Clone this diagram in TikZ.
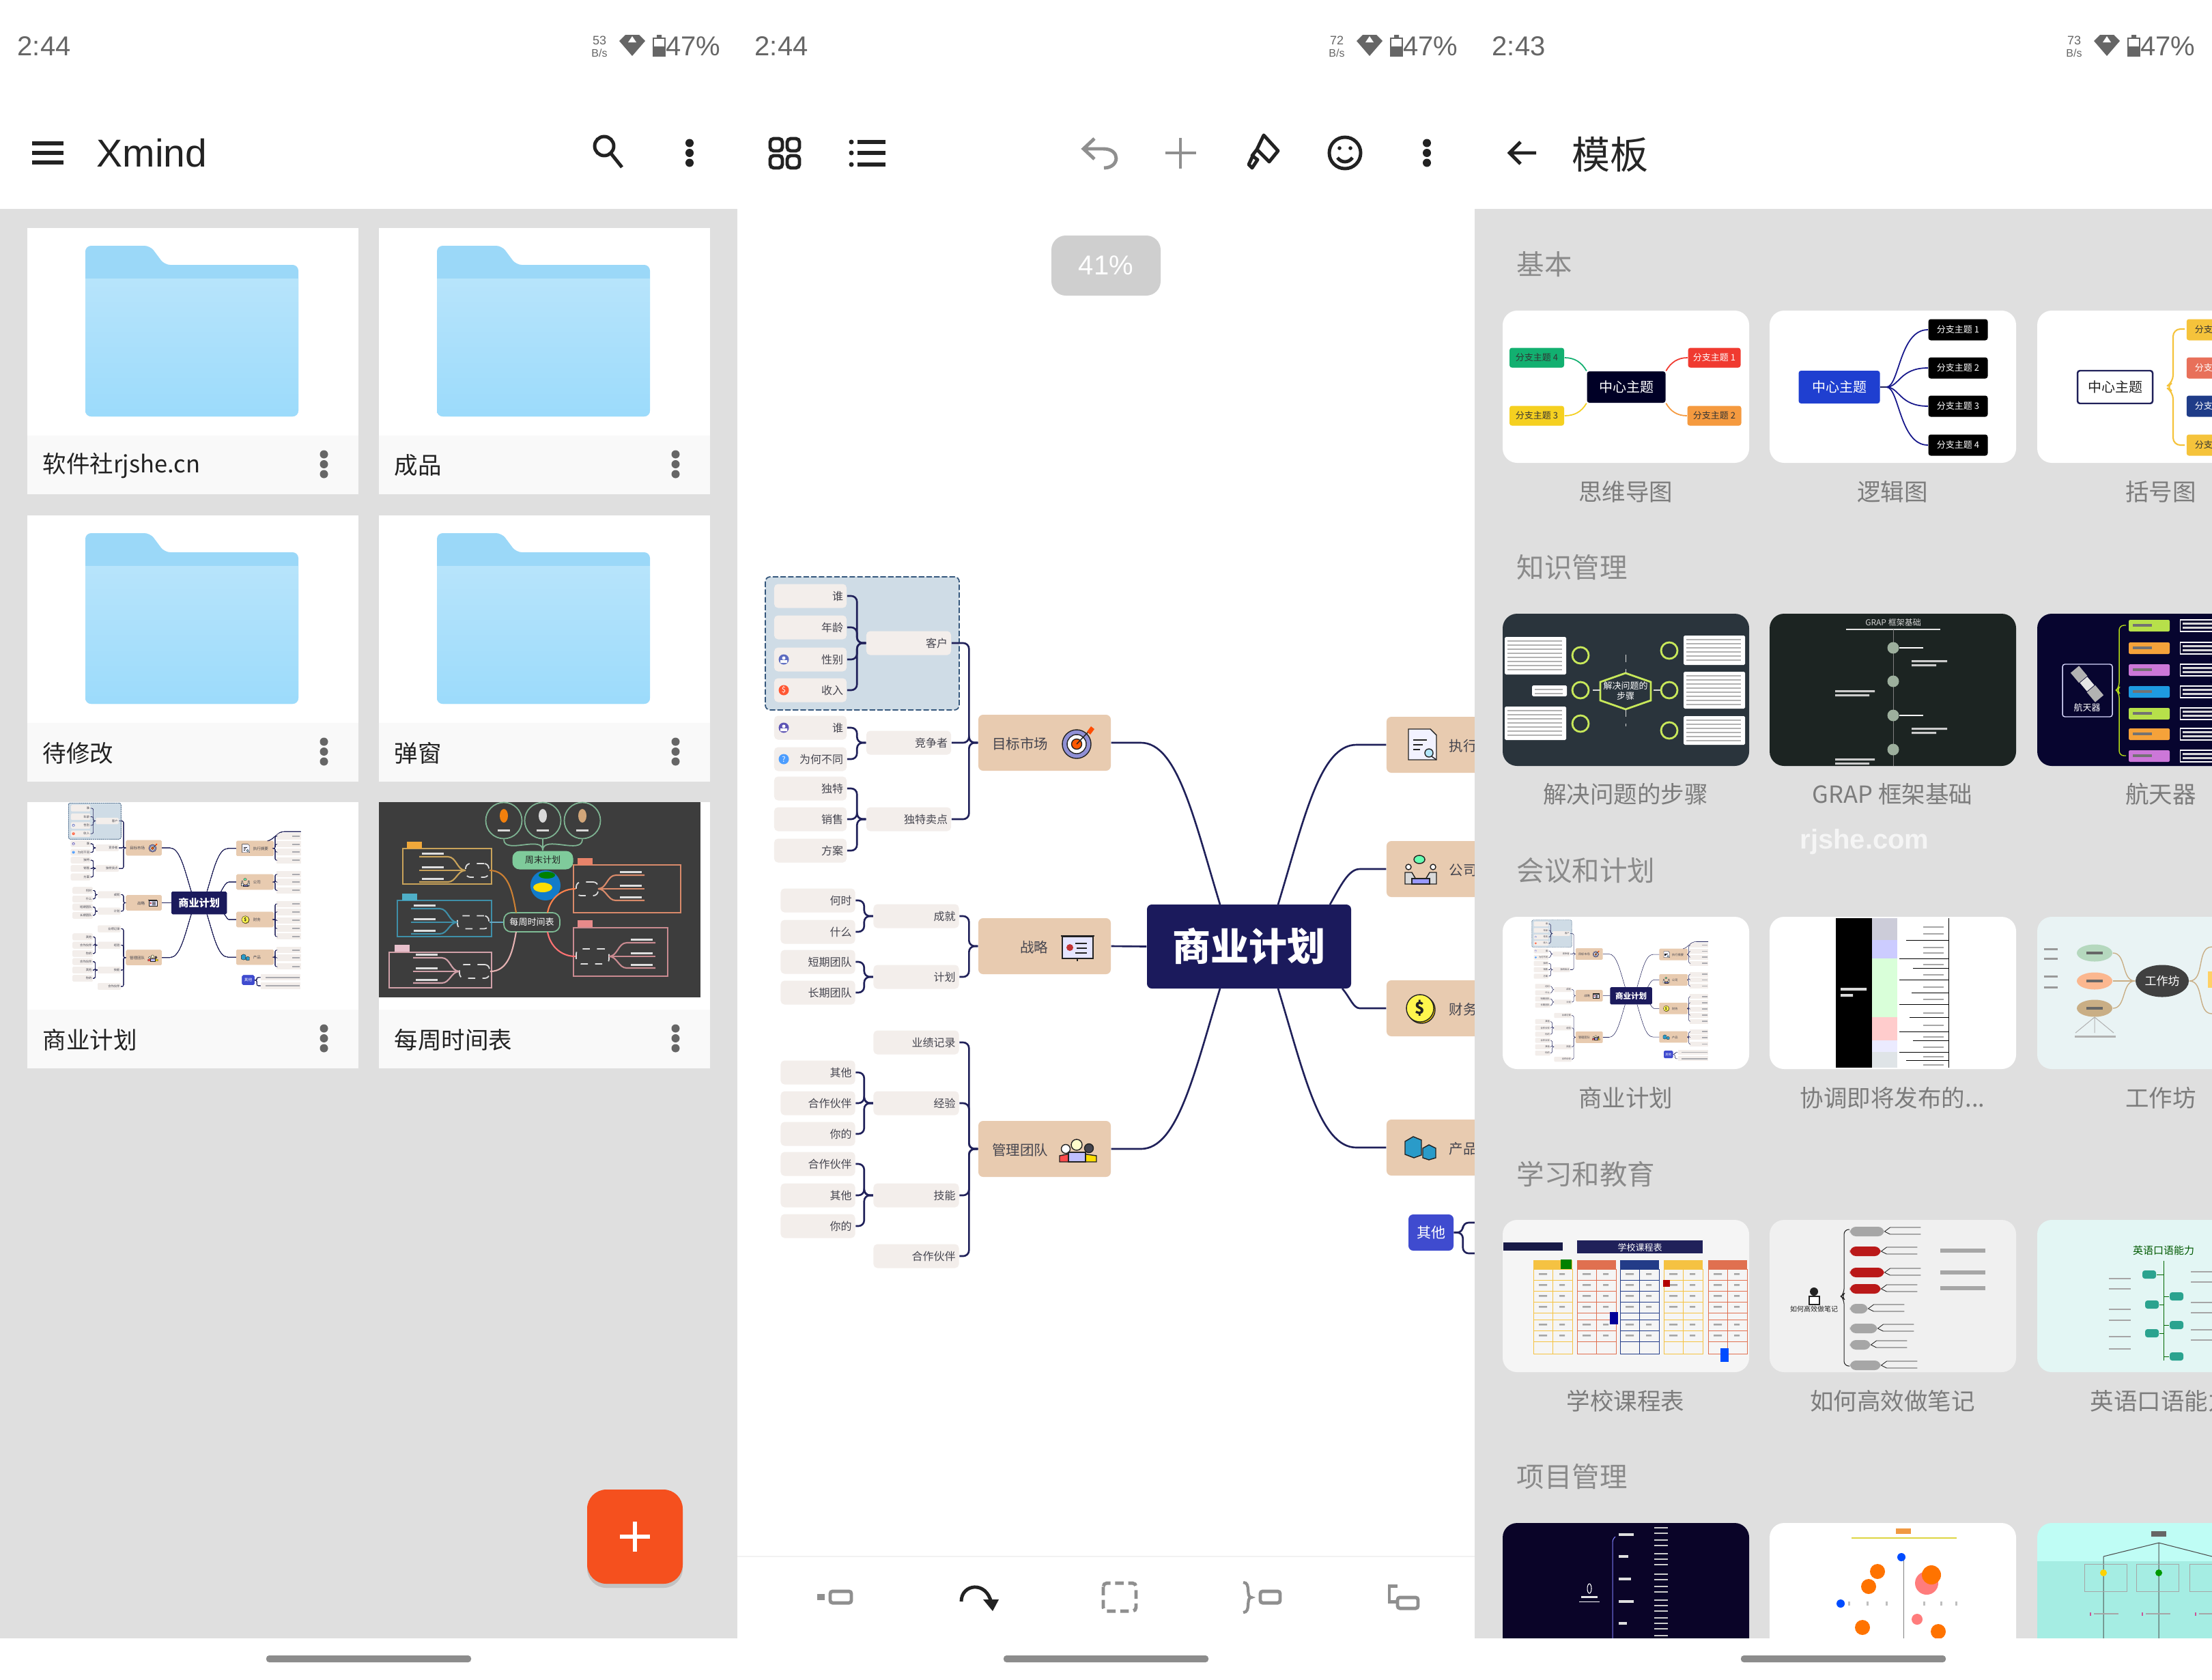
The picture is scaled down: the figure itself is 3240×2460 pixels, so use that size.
\documentclass[tikz,border=0pt]{standalone}
\usepackage{fontspec}
\setmainfont{Noto Sans CJK SC}
\newfontfamily\latinfont{Liberation Sans}
\usetikzlibrary{shapes.geometric,shadows}
\definecolor{pagegray}{HTML}{DFDFDF}
\definecolor{footc}{HTML}{F9F9F9}
\definecolor{ink}{HTML}{20215A}
\definecolor{hubc}{HTML}{1B1A5C}
\definecolor{topicc}{HTML}{E8CBB0}
\definecolor{paper}{HTML}{F3EEEB}
\definecolor{leafink}{HTML}{45454F}
\definecolor{boxblue}{HTML}{CFDCE6}
\definecolor{boxedge}{HTML}{35577C}
\definecolor{folderback}{HTML}{9BD8F8}
\definecolor{foldertop}{HTML}{B7E4FB}
\definecolor{folderbot}{HTML}{9CDBFB}
\definecolor{statc}{HTML}{666666}
\definecolor{iconc}{HTML}{222222}
\definecolor{offc}{HTML}{8F8F8F}
\definecolor{headc}{HTML}{8A8A8A}
\definecolor{labelc}{HTML}{7C7C7C}
\definecolor{fabc}{HTML}{F5501E}
\definecolor{otherc}{HTML}{3F4BCF}
\definecolor{bgreen}{HTML}{12B070}
\definecolor{bred}{HTML}{F03A30}
\definecolor{byellow}{HTML}{F5D020}
\definecolor{borange}{HTML}{F59A3F}
\definecolor{lblue}{HTML}{1F3FD0}
\definecolor{gold}{HTML}{F5C33B}
\definecolor{salmon}{HTML}{E8705A}
\definecolor{navy}{HTML}{1F3C88}
\definecolor{lime}{HTML}{C8E85A}
\definecolor{sgreen}{HTML}{B7E04A}
\definecolor{sorange}{HTML}{F5A23A}
\definecolor{spink}{HTML}{CC77D8}
\definecolor{sblue}{HTML}{1E9AE0}
\definecolor{tealc}{HTML}{2BA38F}
\definecolor{tan}{HTML}{C9AE85}
\definecolor{pillc}{HTML}{7FCB9B}
\newcommand{\fpx}[1]{\fontsize{\fpeval{#1*.2845}}{\fpeval{#1*.34}}\selectfont}
\newcommand{\trunc}{.{}.{}.}
\tikzset{
  box/.style 2 args={minimum width=#1*.01cm,minimum height=#2*.01cm,inner sep=0pt},
  leaf/.style={fill=paper,inner xsep=.05cm,inner ysep=0pt,minimum height=.35cm,align=right,font=\fpx{16},text=leafink},
  topic/.style={box={194}{82},fill=topicc},
  toptext/.style={font=\fpx{20.5},text=leafink,inner sep=0pt},
  stat/.style={font=\latinfont\fpx{40},text=statc,inner sep=0pt},
  tool/.style={draw=iconc,line width=1.4pt},
  toolgray/.style={draw=offc,line width=1.4pt},
  cap3/.style={font=\fpx{34.5},text=labelc,inner sep=0pt},
  sect/.style={font=\fpx{40.5},text=headc,inner sep=0pt,anchor=west},
  tag/.style={rounded corners=1pt,font=\fpx{13},text=white}
}
\newcommand{\statusbar}[3]{
\begin{scope}[shift={(#1,0)}]
\node[stat,anchor=west] (clock#1) at (25,68) {#2};
\node[font=\latinfont\fpx{18},text=statc,inner sep=0pt] (rate#1) at (878,59) {#3};
\node[font=\latinfont\fpx{16},text=statc,inner sep=0pt] (unit#1) at (878,78) {B/s};
\fill[statc] (907,60) -- (916,51) -- (936,51) -- (945,60) -- (926,82) -- cycle;
\fill[white] (926,53) -- (932,62) -- (920,62) -- cycle;
\draw[statc,line width=.6pt] (957,56) rectangle (974,82);
\fill[statc] (957,68) rectangle (974,82) (962,51) rectangle (969,56);
\node[stat,anchor=east] (batt#1) at (1056,68) {47\%};
\end{scope}}
\newcommand{\kebab}[3]{\foreach \k in {-1,0,1} \fill[#3] (#1,{#2+\k*14.5}) circle (6);}
\newcommand{\folder}[2]{
\begin{scope}[shift={(#1,#2)}]
\fill[folderback,rounded corners=2.4pt] (0,250) -- (0,0) -- (95,0) -- (116,28) -- (312,28) -- (312,250) -- cycle;
\begin{scope}
\clip[rounded corners=2.4pt] (0,250) -- (0,-20) -- (312,-20) -- (312,250) -- cycle;
\shade[top color=foldertop,bottom color=folderbot] (0,48) rectangle (312,250);
\end{scope}
\end{scope}}
\newcommand{\filecard}[3]{
\fill[white] (#1,#2) rectangle ++(485,390);
\fill[footc] (#1,{#2+304}) rectangle ++(485,86);
\node[anchor=west,font=\fpx{34.5},text=iconc,inner sep=0pt] (file#1x#2) at ({#1+22},{#2+348}) {#3};
\kebab{#1+434.5}{#2+346}{statc}}
\newcommand{\bizmap}[3]{
\pgfmathsetlengthmacro\dashon{#3*2.3pt}
\pgfmathsetlengthmacro\dashoff{#3*.9pt}
\begin{scope}[shift={({#1-1829*#3},{#2-1388*#3})},scale=#3,transform shape,
  link/.style={draw=ink,line width=#3*.75pt,rounded corners=#3*2.4pt},
  lin/.style={draw=iconc,line width=#3*.4pt},
  leaf/.append style={rounded corners=#3*1.6pt},
  topic/.append style={rounded corners=#3*2pt}]
\draw[fill=boxblue,draw=boxedge,line width=#3*.5pt,rounded corners=#3*2pt,dash pattern=on \dashon off \dashoff] (1121,845) rectangle (1405,1040);
\foreach \y/\txt in {873/谁,919/年龄,966/性别,1011/收入,1066/谁,1112/为何不同,1155/独特,1200/销售,1246/方案}
  \node[leaf,text width=.96cm] (l\y) at (1187,\y) {\txt};
\foreach \y/\txt in {1319/何时,1365/什么,1409/短期团队,1454/长期团队,1571/其他,1616/合作伙伴,1661/你的,1705/合作伙伴,1751/其他,1796/你的}
  \node[leaf,text width=.99cm] (l\y) at (1198,\y) {\txt};
\foreach \y/\txt in {942/客户,1088/竞争者,1200/独特卖点}
  \node[leaf,text width=1.14cm] (m\y) at (1331,\y) {\txt};
\foreach \y/\txt in {1342/成就,1431/计划,1527/业绩记录,1616/经验,1751/技能,1840/合作伙伴}
  \node[leaf,text width=1.15cm] (m\y) at (1342,\y) {\txt};
\node[topic] (tmkt) at (1530,1088) {};
\node[topic] (tstr) at (1530,1386) {};
\node[topic] (ttm) at (1530,1683) {};
\node[toptext,anchor=east] (lmkt) at (1536,1090) {目标市场};
\node[toptext,anchor=east] (lstr) at (1536,1388) {战略};
\node[toptext,anchor=east] (ltm) at (1536,1685) {管理团队};
\foreach \y/\n/\txt in {1091/a/执行摘要,1273/b/公司,1477/c/财务,1681/d/产品} {
  \node[topic,minimum width=2.03cm] (e\n) at (2132.5,\y) {};
  \node[toptext,anchor=west] (la\n) at (2122,{\y+2}) {\txt};}
\node[box={299}{123},fill=hubc,rounded corners=#3*2pt,text=white,font=\fpx{56}\bfseries] (hub) at (1829.5,1386.5) {商业计划};
\coordinate (hnw) at (1787,1325);
\coordinate (hsw) at (1787,1448);
\coordinate (hne) at (1872,1325);
\coordinate (hse) at (1872,1448);
\coordinate (hbn) at (1948,1325);
\coordinate (hcs) at (1966,1448);
\node[box={66}{53},fill=otherc,rounded corners=#3*2pt,text=white,font=\fpx{21}] (oth) at (2096,1805.5) {其他};
\foreach \y in {1025,1069,1110,1155,1232,1273,1318,1392,1436,1481,1525,1569,1643,1684,1732} {
  \node[box={131}{34},fill=paper] (r\y) at (2316,\y) {};
  \fill[leafink!45] (2335,{\y-4}) rectangle (2376,{\y+4});}
\foreach \y in {1791,1836} {
  \node[box={217}{34},fill=paper] (r\y) at (2272,\y) {};
  \fill[leafink!45] (2190,{\y-4}) rectangle (2376,{\y+4});}
\foreach \up/\kids in {942/{873,919,966,1011},1088/{1066,1112},1200/{1155,1200,1246},1342/{1319,1365},1431/{1409,1454},1616/{1571,1616,1661},1751/{1705,1751,1796}}
  \foreach \kid in \kids \draw[link] (m\up.west) -- ++(-13,0) |- (l\kid.east);
\foreach \up/\kids in {tmkt/{942,1088,1200},tstr/{1342,1431},ttm/{1527,1616,1751,1840}}
  \foreach \kid in \kids \draw[link] (\up.west) -- ++(-13,0) |- (m\kid.east);
\foreach \up/\kids in {a/{1025,1069,1110,1155},b/{1232,1273,1318},c/{1392,1436,1481,1525,1569},d/{1643,1684,1732}}
  \foreach \kid in \kids \draw[link] (e\up.east) -- ++(7,0) |- (r\kid.west);
\foreach \kid in {1791,1836} \draw[link] (oth.east) -- ++(13,0) |- (r\kid.west);
\draw[link] (tmkt.east) -- ++(35,0) .. controls +(62,0) and +(-38,-125) .. (hnw);
\draw[link] (ttm.east) -- ++(35,0) .. controls +(62,0) and +(-38,125) .. (hsw);
\draw[link] (tstr.east) -- (hub.west);
\draw[link] (ea.west) -- ++(-35,0) .. controls +(-62,0) and +(38,-125) .. (hne);
\draw[link] (ed.west) -- ++(-35,0) .. controls +(-62,0) and +(38,125) .. (hse);
\draw[link] (eb.west) -- ++(-30,0) .. controls +(-25,0) and +(16,-28) .. (hbn);
\draw[link] (ec.west) -- ++(-30,0) .. controls +(-18,0) and +(12,14) .. (hcs);
\draw[link] (2200,1051) .. controls (2240,1040) and (2250,1005) .. (2290,1000) -- (2381,1000);
\foreach \y/\cc in {966/5C6BC0,1066/5E55B5} {
  \definecolor{mk}{HTML}{\cc}
  \fill[mk] (1148,\y) circle (7.5);
  \fill[white] (1148,{\y-2}) circle (2.5) (1143,{\y+1}) rectangle (1153,{\y+5});}
\node[circle,fill=red!65!orange!80,text=white,font=\fpx{11},inner sep=0pt,minimum size=.15cm] (mon) at (1148,1011) {\$};
\node[circle,fill=blue!55!cyan!70,text=white,font=\fpx{11},inner sep=0pt,minimum size=.15cm] (ask) at (1148,1112) {?};
\draw[lin,fill=blue!45!gray!60] (1577,1090) circle (21);
\draw[lin,fill=white] (1577,1090) circle (14);
\draw[lin,fill=orange!70!red] (1577,1090) circle (7.5);
\draw[lin] (1577,1090) -- (1596,1070);
\fill[orange!60!red] (1592,1072) -- (1598,1064) -- (1603,1068) -- (1597,1076) -- cycle;
\draw[lin,fill=blue!10] (1556,1372) rectangle (1601,1404);
\draw[lin,line width=#3*.8pt] (1554,1371) -- (1603,1371) (1578,1404) -- (1578,1408);
\fill[red!70!black!80] (1567,1388) circle (5);
\draw[lin] (1575,1382) -- (1592,1382) (1577,1389) -- (1592,1389) (1575,1396) -- (1592,1396);
\draw[lin,fill=red!70] (1552,1702) -- (1552,1693) -- (1572,1689) -- (1572,1702) -- cycle;
\draw[lin,fill=white] (1561,1683) circle (6.5);
\draw[lin,fill=yellow!80!orange] (1585,1702) -- (1585,1690) -- (1606,1693) -- (1606,1702) -- cycle;
\draw[lin,fill=leafink] (1595,1682) circle (6.5);
\draw[lin,fill=blue!25] (1565,1702) -- (1565,1688) -- (1590,1688) -- (1590,1702) -- cycle;
\draw[lin,fill=yellow!20] (1577,1677) circle (8);
\draw[lin,fill=blue!5] (2063,1068) -- (2095,1068) -- (2104,1077) -- (2104,1113) -- (2063,1113) -- cycle;
\draw[lin] (2070,1084) -- (2090,1084) (2070,1091) -- (2084,1091) (2070,1098) -- (2080,1098);
\draw[lin,fill=cyan!30] (2093,1103) circle (6);
\draw[lin] (2097,1108) -- (2104,1113);
\draw[lin,fill=green!50!cyan!60] (2079,1259) ellipse (8 and 6);
\draw[lin,fill=white] (2063,1270) circle (4) (2099,1270) circle (4);
\draw[lin,fill=gray!30] (2058,1295) -- (2058,1278) -- (2068,1278) -- (2074,1288) -- (2074,1295) -- cycle;
\draw[lin,fill=gray!30] (2104,1295) -- (2104,1278) -- (2094,1278) -- (2088,1288) -- (2088,1295) -- cycle;
\draw[lin,fill=blue!40] (2068,1287) rectangle (2094,1295);
\draw[lin,fill=yellow!70!orange] (2082,1479) circle (20);
\draw[lin,fill=yellow!70] (2080,1477) circle (20);
\node[font=\fpx{24}\bfseries,text=iconc,inner sep=0pt] (coin) at (2080,1477) {\$};
\draw[lin,fill=cyan!60!teal] (2058,1672) -- (2070,1665) -- (2082,1670) -- (2082,1692) -- (2071,1696) -- (2058,1691) -- cycle;
\draw[lin,fill=cyan!60!teal] (2084,1682) -- (2093,1677) -- (2103,1682) -- (2103,1696) -- (2093,1699) -- (2084,1696) -- cycle;
\end{scope}}
\begin{document}
\begin{tikzpicture}[x=.01cm,y=-.01cm]
\useasboundingbox (0,0) rectangle (3240,2460);
\clip (0,0) rectangle (3240,2460);
\fill[white] (0,0) rectangle (3240,2460);
\statusbar{0}{2:44}{53}
\node[font=\latinfont\fpx{57},text=iconc,inner sep=0pt,anchor=west] (app) at (141,224) {Xmind};
\foreach \y in {210,224,238} \draw[iconc,line width=1.7pt] (47,\y) -- (93,\y);
\draw[iconc,line width=1.4pt] (885,214) circle (14) (895,225) -- (911,245);
\kebab{1010}{224}{iconc}
\fill[pagegray] (0,306) rectangle (1080,2400);
\filecard{40}{334}{软件社rjshe.cn}
\filecard{555}{334}{成品}
\filecard{40}{755}{待修改}
\filecard{555}{755}{弹窗}
\filecard{40}{1175}{商业计划}
\filecard{555}{1175}{每周时间表}
\foreach \x in {125,640} \foreach \y in {360,781} \folder{\x}{\y}
\bizmap{291.5}{1323}{.27}
\fill[fill=black!76] (555,1175) rectangle (1026,1461);
\foreach \x/\cc in {738/orange!80!brown,795/white!70!gray,853/brown!70} {
  \node[circle,draw=pillc!70!gray,line width=.5pt,minimum size=.53cm,inner sep=0pt] (w\x) at (\x,1202) {};
  \fill[\cc] (\x,1195) ellipse (6 and 10);
  \fill[white!70!gray] ({\x-9},1215) rectangle ++(18,3);}
\node[box={89}{27},fill=pillc,rounded corners=3pt,font=\fpx{13},text=iconc] (pill) at (795,1260) {周末计划};
\foreach \x in {738,795,853} \draw[pillc!70!gray,line width=.5pt] (w\x.south) to[out=-90,in=90] (pill.north);
\fill[cyan!60!blue] (799,1297) circle (22);
\fill[yellow!80!orange] (795,1300) ellipse (14 and 7);
\fill[green!50!black] (801,1282) ellipse (12 and 5);
\node[box={82}{28},draw=pillc!80!gray,rounded corners=3pt,line width=.5pt,font=\fpx{13},text=white] (wk) at (779,1351) {每周时间表};
\foreach \xa/\ya/\xb/\yb/\xt/\yt/\xc/\yc/\wn/\hn/\sg/\cc/\tg in {
  590/1243/720/1295/596/1233/699/1275/34/20/-1/C9A35A/F0A83A,
  582/1319/720/1372/589/1309/693/1351/46/19/-1/3F8FA8/4FAFC8,
  570/1395/720/1447/578/1384/695/1423/44/20/-1/D0A0A8/E8C0CC,
  840/1267/997/1337/846/1257/860/1302/32/20/1/D98A6A/E8836A,
  840/1359/978/1430/846/1348/868/1401/48/22/1/C98A90/E88A8A} {
  \definecolor{gb}{HTML}{\cc}
  \definecolor{gt}{HTML}{\tg}
  \draw[gb,line width=.4pt] (\xa,\ya) rectangle (\xb,\yb);
  \fill[gt] (\xt,\yt) rectangle ++(22,10);
  \node[box={\wn}{\hn},draw=white!75!gray,dashed,line width=.5pt,rounded corners=2pt] (n\xc) at (\xc,\yc) {};
  \foreach \q in {-20,0,17} {
    \draw[gb,line width=.6pt] (n\xc.center) ++({\sg*(\wn/2)},0) to[out={90-\sg*90},in={90+\sg*90}] ++({\sg*26},\q) -- ++({\sg*42},0);
    \fill[white!75!gray] ({\xc+\sg*(\wn/2+32)},{\yc+\q-6}) rectangle ++({\sg*32},3);}
  }
\draw[orange!60!gray,line width=.6pt] (n699.east) to[out=0,in=100] (756,1337);
\draw[cyan!50!gray,line width=.6pt] (n693.east) -- (wk.west);
\draw[pink!80!gray,line width=.6pt] (n695.east) to[out=0,in=-100] (756,1365);
\draw[orange!60!red!70,line width=.6pt] (n860.west) to[out=180,in=80] (802,1337);
\draw[red!40!pink,line width=.6pt] (n868.west) to[out=180,in=-80] (802,1365);
\node[box={140}{138},fill=fabc,rounded corners=8pt,drop shadow={opacity=.3,shadow xshift=0pt,shadow yshift=-.06cm}] (fab) at (930,2251) {};
\draw[white,line width=1.5pt] (908,2251) -- (952,2251) (930,2229) -- (930,2273);
\statusbar{1080}{2:44}{72}
\foreach \x/\y in {1128/203,1153/203,1128/228,1153/228} \draw[tool,rounded corners=1.5pt] (\x,\y) rectangle ++(18,18);
\foreach \y in {208,224,241} {\fill[iconc] (1247,\y) circle (3.5); \draw[iconc,line width=1.6pt] (1256,\y) -- (1297,\y);}
\draw[toolgray] (1603,203) -- (1587,218) -- (1603,233) (1587,218) -- (1616,218) .. controls (1642,218) and (1640,246) .. (1617,246);
\draw[toolgray] (1707,224) -- (1752,224) (1729,202) -- (1729,247);
\draw[tool,line join=round] (1851,198) -- (1872,221) -- (1859,237) -- (1841,219) -- cycle (1841,219) -- (1834,228) -- (1842,234) -- (1834,246) -- (1829,241) -- (1836,226) (1859,237) -- (1851,229);
\draw[tool] (1970,224) circle (23);
\fill[iconc] (1962,217) circle (2.8) (1978,217) circle (2.8);
\draw[tool] (1959,231) .. controls (1965,239) and (1975,239) .. (1981,231);
\kebab{2090}{224}{iconc}
\node[box={160}{88},fill=black!19,rounded corners=6pt,font=\latinfont\fpx{40},text=white] (zoomlevel) at (1620,389) {41\%};
\bizmap{1829}{1388}{1}
\fill[white] (1080,2280) rectangle (2160,2400);
\draw[black!5,line width=.5pt] (1080,2280) -- (2160,2280);
\draw[toolgray,rounded corners=1pt] (1216,2331) rectangle (1247,2348);
\fill[offc] (1197,2335) rectangle (1208,2344);
\draw[iconc,line width=1.4pt] (1408,2346) .. controls (1408,2320) and (1445,2315) .. (1452,2348);
\fill[iconc] (1440,2343) -- (1463,2343) -- (1454,2360) -- cycle;
\draw[toolgray,dash pattern=on 3.6pt off 1.9pt,rounded corners=1.5pt] (1616,2319) rectangle (1664,2360);
\draw[toolgray,line width=1.2pt] (1821,2318) .. controls (1833,2318) and (1824,2340) .. (1833,2340) .. controls (1824,2340) and (1833,2362) .. (1821,2362);
\draw[toolgray,rounded corners=1pt] (1846,2331) rectangle (1875,2348);
\draw[toolgray,rounded corners=1pt] (2047,2340) rectangle (2077,2356);
\draw[toolgray] (2047,2323) -- (2035,2323) -- (2035,2346) -- (2047,2346);
\statusbar{2160}{2:43}{73}
\draw[tool] (2250,224) -- (2212,224) (2227,208) -- (2211,224) -- (2227,240);
\node[font=\fpx{56},text=black!85,inner sep=0pt,anchor=west] (tpl) at (2302,226) {模板};
\fill[pagegray] (2160,306) rectangle (3240,2400);
\foreach \y/\txt in {387/基本,831/知识管理,1275/会议和计划,1720/学习和教育,2163/项目管理}
  \node[sect] (s\y) at (2221,\y) {\txt};
\foreach \x/\y/\cc in {2201/455/FFFFFF,2592/455/FFFFFF,2984/455/FFFFFF,2201/899/2A343C,2592/899/1C2422,2984/899/07052F,2201/1343/FFFFFF,2592/1343/FFFFFF,2984/1343/E9F3F4,2201/1787/F5F5F5,2592/1787/F0F0F0,2984/1787/E3F6F4,2201/2231/0A0428,2592/2231/FFFFFF,2984/2231/BFFDF5} {
  \definecolor{cd}{HTML}{\cc}
  \fill[cd,rounded corners=6pt] (\x,\y) rectangle ++(361,223);}
\foreach \x/\y/\txt in {2381/720/思维导图,2772/720/逻辑图,3165/720/括号图,2381/1163/解决问题的步骤,2772/1163/GRAP 框架基础,3165/1163/航天器,2381/1608/商业计划,2772/1608/协调即将发布的\trunc,3165/1608/工作坊,2381/2052/学校课程表,2772/2052/如何高效做笔记,3165/2052/英语口语能力}
  \node[cap3] (cap\x x\y) at (\x,\y) {\txt};
\begin{scope}[shift={(2201,455)}]
\node[box={115}{46},fill=black!85!blue,tag,font=\fpx{20}] (a0) at (181,112) {中心主题};
\node[box={80}{29},fill=bgreen,tag,text=black!80] (a4) at (50,69) {分支主题 4};
\node[box={77}{29},fill=bred,tag] (a1) at (310,69) {分支主题 1};
\node[box={80}{29},fill=byellow,tag,text=black!80] (a3) at (50,154) {分支主题 3};
\node[box={79}{29},fill=borange,tag,text=black!80] (a2) at (310,154) {分支主题 2};
\draw[bgreen,line width=.5pt] (a4.east) to[out=0,in=120] (a0.north west);
\draw[bred,line width=.5pt] (a1.west) to[out=180,in=60] (a0.north east);
\draw[byellow,line width=.5pt] (a3.east) to[out=0,in=-120] (a0.south west);
\draw[borange,line width=.5pt] (a2.west) to[out=180,in=-60] (a0.south east);
\end{scope}
\begin{scope}[shift={(2592,455)}]
\node[box={119}{48},fill=lblue,tag,font=\fpx{20}] (b0) at (102,112) {中心主题};
\coordinate (bj) at (171,112);
\draw[ink,line width=.5pt] (b0.east) -- (bj);
\foreach \n/\y in {1/28,2/84,3/140,4/197} {
  \node[box={87}{31},fill=black,tag] (b\n) at (276,\y) {分支主题 \n};
  \draw[ink!70!blue,line width=.5pt] (bj) .. controls (190,112) and (190,\y) .. (b\n.west);}
\end{scope}
\begin{scope}[shift={(2984,455)}]
\node[box={110}{48},fill=white,draw=ink,line width=.7pt,rounded corners=1pt,font=\fpx{20},text=iconc] (c0) at (114,112) {中心主题};
\draw[gold,line width=.6pt,rounded corners=3pt] (216,27) -| (199,105) -- (188,112) -- (199,119) |- (216,197);
\foreach \y/\cc/\tc/\n in {28/gold/black!80/1,84/salmon/white/2,140/navy/white/3,197/gold/black!80/4}
  \node[box={120}{31},fill=\cc,tag,text=\tc,anchor=west,inner xsep=.12cm,text width=1.06cm,align=left] (c\n) at (218,\y) {分支主题};
\end{scope}
\begin{scope}[shift={(2201,899)}]
\draw[lime,line width=.8pt] (143,100) -- (180,87) -- (217,100) -- (217,127) -- (180,140) -- (143,127) -- cycle;
\node[inner sep=0pt,align=center,font=\fpx{13},text=white] (d0) at (180,113) {解决问题的\\步骤};
\draw[white!70!gray,dashed,line width=.3pt] (180,60) -- (180,87) (180,140) -- (180,165) (232,112) -- (217,112) (143,112) -- (126,112);
\foreach \n/\x/\y in {1/114/61,2/114/112,3/114/161,4/244/54,5/244/112,6/244/171}
  \node[circle,draw=lime,fill=none,line width=.8pt,minimum size=.24cm,inner sep=0pt] (dc\n) at (\x,\y) {};
\foreach \x/\y/\w/\h in {3/34/90/55,43/105/51/16,3/136/90/49,265/32/90/43,265/85/90/54,265/150/90/42} {
  \fill[white,rounded corners=.5pt] (\x,\y) rectangle ++(\w,\h);
  \pgfmathtruncatemacro\n{\h-4}
  \foreach \d in {5,11,...,\n} \fill[black!30] ({\x+4},{\y+\d}) rectangle ({\x+\w-6},{\y+\d+1.5});}
\end{scope}
\begin{scope}[shift={(2592,899)}]
\node[font=\fpx{12},text=white!65!gray,inner sep=0pt] (e0) at (181,13) {GRAP 框架基础};
\draw[white!80!gray,line width=.3pt] (112,23) -- (250,23);
\draw[gray,line width=.3pt] (181,23) -- (181,223);
\foreach \n/\y in {1/50,2/99,3/149,4/199} \node[circle,fill=green!10!gray!70,minimum size=.17cm,inner sep=0pt] (eg\n) at (181,\y) {};
\foreach \y in {50,149} {\draw[white,line width=.3pt] (190,\y) -- (225,\y); \fill[white!60!gray] (208,{\y+18}) rectangle ++(52,3) (208,{\y+24}) rectangle ++(36,3);}
\foreach \y in {99,199} {\fill[white!60!gray] (96,{\y+13}) rectangle ++(58,3) (96,{\y+19}) rectangle ++(50,3);}
\end{scope}
\begin{scope}[shift={(2984,899)}]
\draw[white!85!blue,line width=.4pt,rounded corners=1pt] (37,74) rectangle (110,151);
\node[font=\fpx{13},text=white,inner sep=0pt] (f0) at (73,138) {航天器};
\begin{scope}[shift={(73,103)},rotate=-50]
\fill[gray!60] (-28,-8) rectangle (-9,8) (9,-8) rectangle (28,8);
\fill[white!80!gray] (-8,-7) rectangle (8,7);
\end{scope}
\draw[yellow!70!green,line width=.4pt,rounded corners=2pt] (130,17) -| (120,108) -- (116,112) -- (120,116) |- (130,208);
\foreach \y/\cc in {9/sgreen,42/sorange,74/spink,106/sblue,138/sgreen,168/sorange,200/spink} {
  \fill[\cc,rounded corners=.6pt] (134,\y) rectangle ++(60,17);
  \fill[black!55] (140,{\y+6}) rectangle ++(28,4);
  \draw[white,line width=.3pt] (209,\y) rectangle ++(80,17);
  \fill[white!70!gray] (213,{\y+4}) rectangle ++(80,3) (213,{\y+10}) rectangle ++(60,3);}
\end{scope}
\bizmap{2389}{1459}{.205}
\begin{scope}[shift={(2592,1343)}]
\fill[black] (97,2) rectangle (150,221);
\fill[white!70!gray] (104,104) rectangle (142,108) (104,113) rectangle (122,117);
\foreach \ya/\yb/\cc in {2/34/blue!15!gray!35,34/61/blue!20,61/147/green!15,147/181/red!20,181/198/blue!8,198/221/cyan!15!gray!25}
  \fill[\cc] (150,\ya) rectangle (187,\yb);
\draw[black,line width=.3pt] (262,2) -- (262,221);
\foreach \y/\x in {34/200,61/190,75/210,92/190,111/208,128/190,147/205,168/190,181/210,198/190,210/200} \draw[black,line width=.25pt] (\x,\y) -- (262,\y);
\foreach \y in {14,24,44,52,69,84,102,120,140,158,175,190,204,216} \fill[black!35] (225,\y) rectangle ++(30,2);
\end{scope}
\begin{scope}[shift={(2984,1343)}]
\node[ellipse,fill=black!75,minimum width=.78cm,minimum height=.47cm,inner sep=0pt,font=\fpx{17},text=white] (i0) at (183,94) {工作坊};
\foreach \n/\y/\cc in {1/53/B5D8BE,2/94/FBB78F,3/134/C9AE85} {
  \definecolor{ef}{HTML}{\cc}
  \node[ellipse,fill=ef,minimum width=.52cm,minimum height=.25cm,inner sep=0pt] (ie\n) at (84,\y) {};
  \fill[black!60] (72,{\y-2}) rectangle (96,{\y+2});
  \draw[tan,line width=.4pt] (ie\n.east) to[out=0,in=180] (i0.west);}
\draw[tan,line width=.4pt] (i0.east) to[out=0,in=180] (256,44) (i0.east) to[out=0,in=180] (256,142);
\foreach \y in {46,60,86,102} \fill[black!40] (10,\y) rectangle ++(20,2.5);
\draw[gray!60,line width=.3pt] (84,147) -- (56,170) (84,147) -- (84,170) (84,147) -- (112,170);
\fill[black!30] (55,174) rectangle (115,177);
\fill[orange!60!yellow!60] (250,80) rectangle (256,104);
\end{scope}
\begin{scope}[shift={(2201,1787)}]
\fill[ink] (109,30) rectangle (293,49);
\node[font=\fpx{13},text=white,inner sep=0pt] (j0) at (201,40) {学校课程表};
\fill[ink!80!black] (1,33) rectangle (88,45);
\foreach \x/\cc in {45/F5C242,109/E07050,172/233C88,236/F5C242,301/E07050} {
  \definecolor{jc}{HTML}{\cc}
  \fill[jc] (\x,59) rectangle ++(57,13);
  \draw[jc,line width=.3pt] (\x,72) rectangle ++(57,124);
  \draw[jc,line width=.3pt] ({\x+28},72) -- ({\x+28},196);
  \foreach \y in {88,104,120,136,146,162,178} \draw[jc,line width=.25pt] (\x,\y) -- ++(57,0);
  \foreach \y in {78,94,110,126,152,168} \fill[black!35] ({\x+8},\y) rectangle ++(12,2.5) ({\x+38},\y) rectangle ++(8,2.5);}
\fill[green!50!black] (85,58) rectangle (101,72);
\fill[red!70!black] (235,88) rectangle ++(10,10);
\fill[blue!60!black] (157,135) rectangle ++(12,18);
\fill[blue!70!cyan] (319,188) rectangle ++(12,20);
\end{scope}
\begin{scope}[shift={(2592,1787)}]
\fill[iconc] (65,105) circle (6);
\draw[iconc,line width=.4pt,fill=white] (58,112) rectangle (73,124);
\node[font=\fpx{10},text=iconc,inner sep=0pt] (k0) at (65,131) {如何高效做笔记};
\draw[iconc,line width=.3pt,rounded corners=2pt] (117,14) -| (109,108) -- (105,112) -- (109,116) |- (117,214);
\foreach \y/\cc/\n in {17/gray!70/50,46/red!70!black!90/45,77/red!70!black!90/50,101/red!70!black!90/45,130/gray!70/26,159/gray!70/40,183/gray!70/30,213/gray!70/45} {
  \node[box={\n}{14},fill=\cc,rounded corners=2.5pt,anchor=west] (kp\y) at (117,\y) {};
  \draw[iconc,line width=.25pt] (kp\y.east) -- ++(8,-6) -- ++(45,0) (kp\y.east) -- ++(8,4) -- ++(45,0);}
\foreach \y in {42,74,97} \fill[gray!70] (250,\y) rectangle ++(66,6);
\end{scope}
\begin{scope}[shift={(2984,1787)}]
\node[font=\fpx{15},text=green!35!black,inner sep=0pt] (m0) at (185,45) {英语口语能力};
\draw[green!40!black,line width=.25pt] (185,60) -- (185,206);
\foreach \n/\x/\y in {1/164/80,2/168/124,3/204/112,4/204/154,5/168/166,6/204/200} {
  \node[box={20}{12},fill=tealc,rounded corners=1pt] (mg\n) at (\x,\y) {};
  \draw[green!40!black,line width=.25pt] (mg\n) -- (185,\y);}
\foreach \x/\y in {105/85,105/100,105/130,105/146,105/170,105/188,225/75,225/90,225/120,225/135,225/160,225/175}
  \fill[black!35] (\x,\y) rectangle ++(32,2);
\end{scope}
\begin{scope}[shift={(2201,2231)}]
\draw[white,line width=.3pt] (127,96) ellipse (3 and 7);
\draw[white,line width=.3pt] (112,115) -- (142,115);
\fill[white!80!gray] (115,107) rectangle ++(24,3);
\draw[blue!50!white,line width=.3pt,rounded corners=1pt] (161,170) -- (161,24) -- (165,20);
\foreach \y/\w in {15/22,47/14,80/18,113/22,145/12} \fill[white!75!gray] (170,\y) rectangle ++(\w,4);
\foreach \y in {6,14,24,32,44,52,60,74,82,92,100,112,120,128,138,146,154,164} \fill[white!60!gray] (222,\y) rectangle ++(20,2);
\end{scope}
\begin{scope}[shift={(2592,2231)}]
\fill[orange!70!brown!80] (185,8) rectangle ++(22,8);
\draw[yellow!70!gray,line width=.4pt] (120,22) -- (274,22);
\draw[gray,line width=.2pt] (196,50) -- (196,170);
\fill[red!35!pink] (216,141) circle (8) (230,88) circle (17);
\foreach \x/\y/\rr in {158/71/11,145/93/11,237/76/14,136/153/11,247/159/11}
  \fill[orange!90!red] (\x,\y) circle (\rr);
\fill[blue!70!cyan] (193,50) circle (6) (104,118) circle (6);
\foreach \x in {115,142,170,225,250,272} \fill[gray!50] (\x,115) rectangle ++(3,6);
\end{scope}
\begin{scope}[shift={(2984,2231)}]
\definecolor{oband}{HTML}{A5EDE3}
\fill[oband] (0,56) rectangle (256,223);
\draw[black!70,line width=.3pt] (97,49) -- (178,29) -- (256,49) (178,29) -- (178,223) (97,49) -- (97,223);
\fill[black!60] (167,12) rectangle ++(22,8);
\foreach \x/\cc in {97/yellow!70!orange,178/green!60!black}
  \fill[\cc] (\x,73) circle (5);
\foreach \x in {69,145,223} {
  \draw[black!35,line width=.2pt] (\x,60) rectangle ++(62,40);
  \fill[magenta!60!gray] ({\x+8},131) rectangle ++(2,5);
  \fill[black!35] ({\x+14},132) rectangle ++(36,2);}
\end{scope}
\node[font=\latinfont\fpx{40}\bfseries,text=white!92!gray,inner sep=0pt] (mark) at (2731,1233) {rjshe.com};
\fill[white] (0,2400) rectangle (3240,2460);
\foreach \x in {390,1470,2550} \fill[black!45,rounded corners=1.2pt] (\x,2425) rectangle ++(300,10);
\end{tikzpicture}
\end{document}
